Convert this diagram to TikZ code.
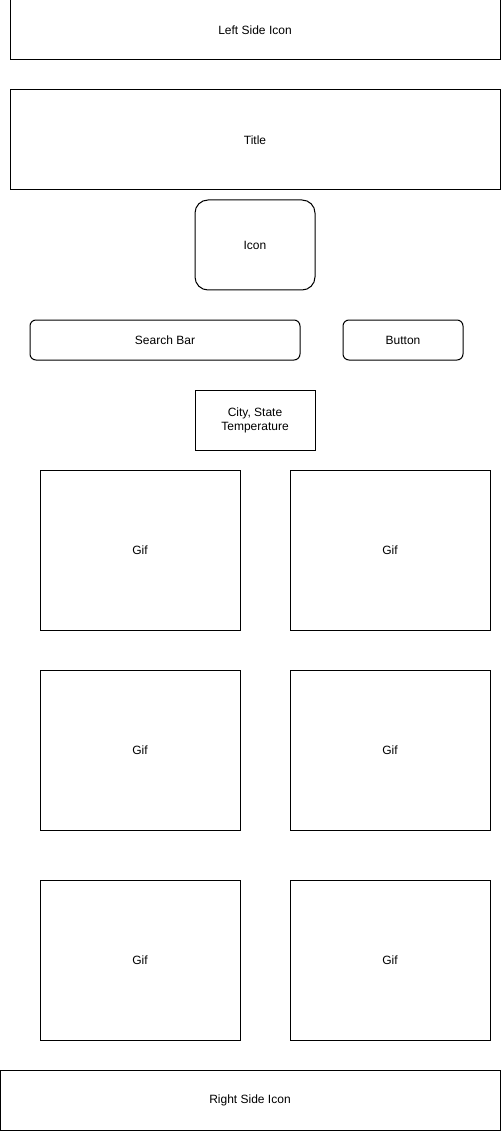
\documentclass[tikz,border=0pt]{standalone}
\usepackage{fontspec}
\setmainfont{Liberation Sans}
\begin{document}
\begin{tikzpicture}[x=1pt,y=-1pt,
  box/.style={draw=black,line width=1pt,fill=white,inner sep=0pt,align=center,font=\fontsize{12}{14}\selectfont},
  rbox/.style={box,rounded corners=#1},
]
\useasboundingbox (0,0) rectangle (501,1131);
\node[box,minimum width=490,minimum height=60] (left) at (255,30) {Left Side Icon};
\node[box,minimum width=490,minimum height=100] (title) at (255,140) {Title};
\node[rbox=13pt,minimum width=120,minimum height=90] (icon) at (255,245) {Icon};
\node[rbox=6pt,minimum width=270,minimum height=40] (search) at (165,340) {Search Bar};
\node[rbox=6pt,minimum width=120,minimum height=40] (button) at (403,340) {Button};
\node[box,minimum width=120,minimum height=60] (city) at (255,420) {City, State\\Temperature};
\node[box,minimum width=200,minimum height=160] (g1) at (140,550) {Gif};
\node[box,minimum width=200,minimum height=160] (g2) at (390,550) {Gif};
\node[box,minimum width=200,minimum height=160] (g3) at (140,750) {Gif};
\node[box,minimum width=200,minimum height=160] (g4) at (390,750) {Gif};
\node[box,minimum width=200,minimum height=160] (g5) at (140,960) {Gif};
\node[box,minimum width=200,minimum height=160] (g6) at (390,960) {Gif};
\node[box,minimum width=500,minimum height=60] (right) at (250,1100) {Right Side Icon};
\end{tikzpicture}
\end{document}
